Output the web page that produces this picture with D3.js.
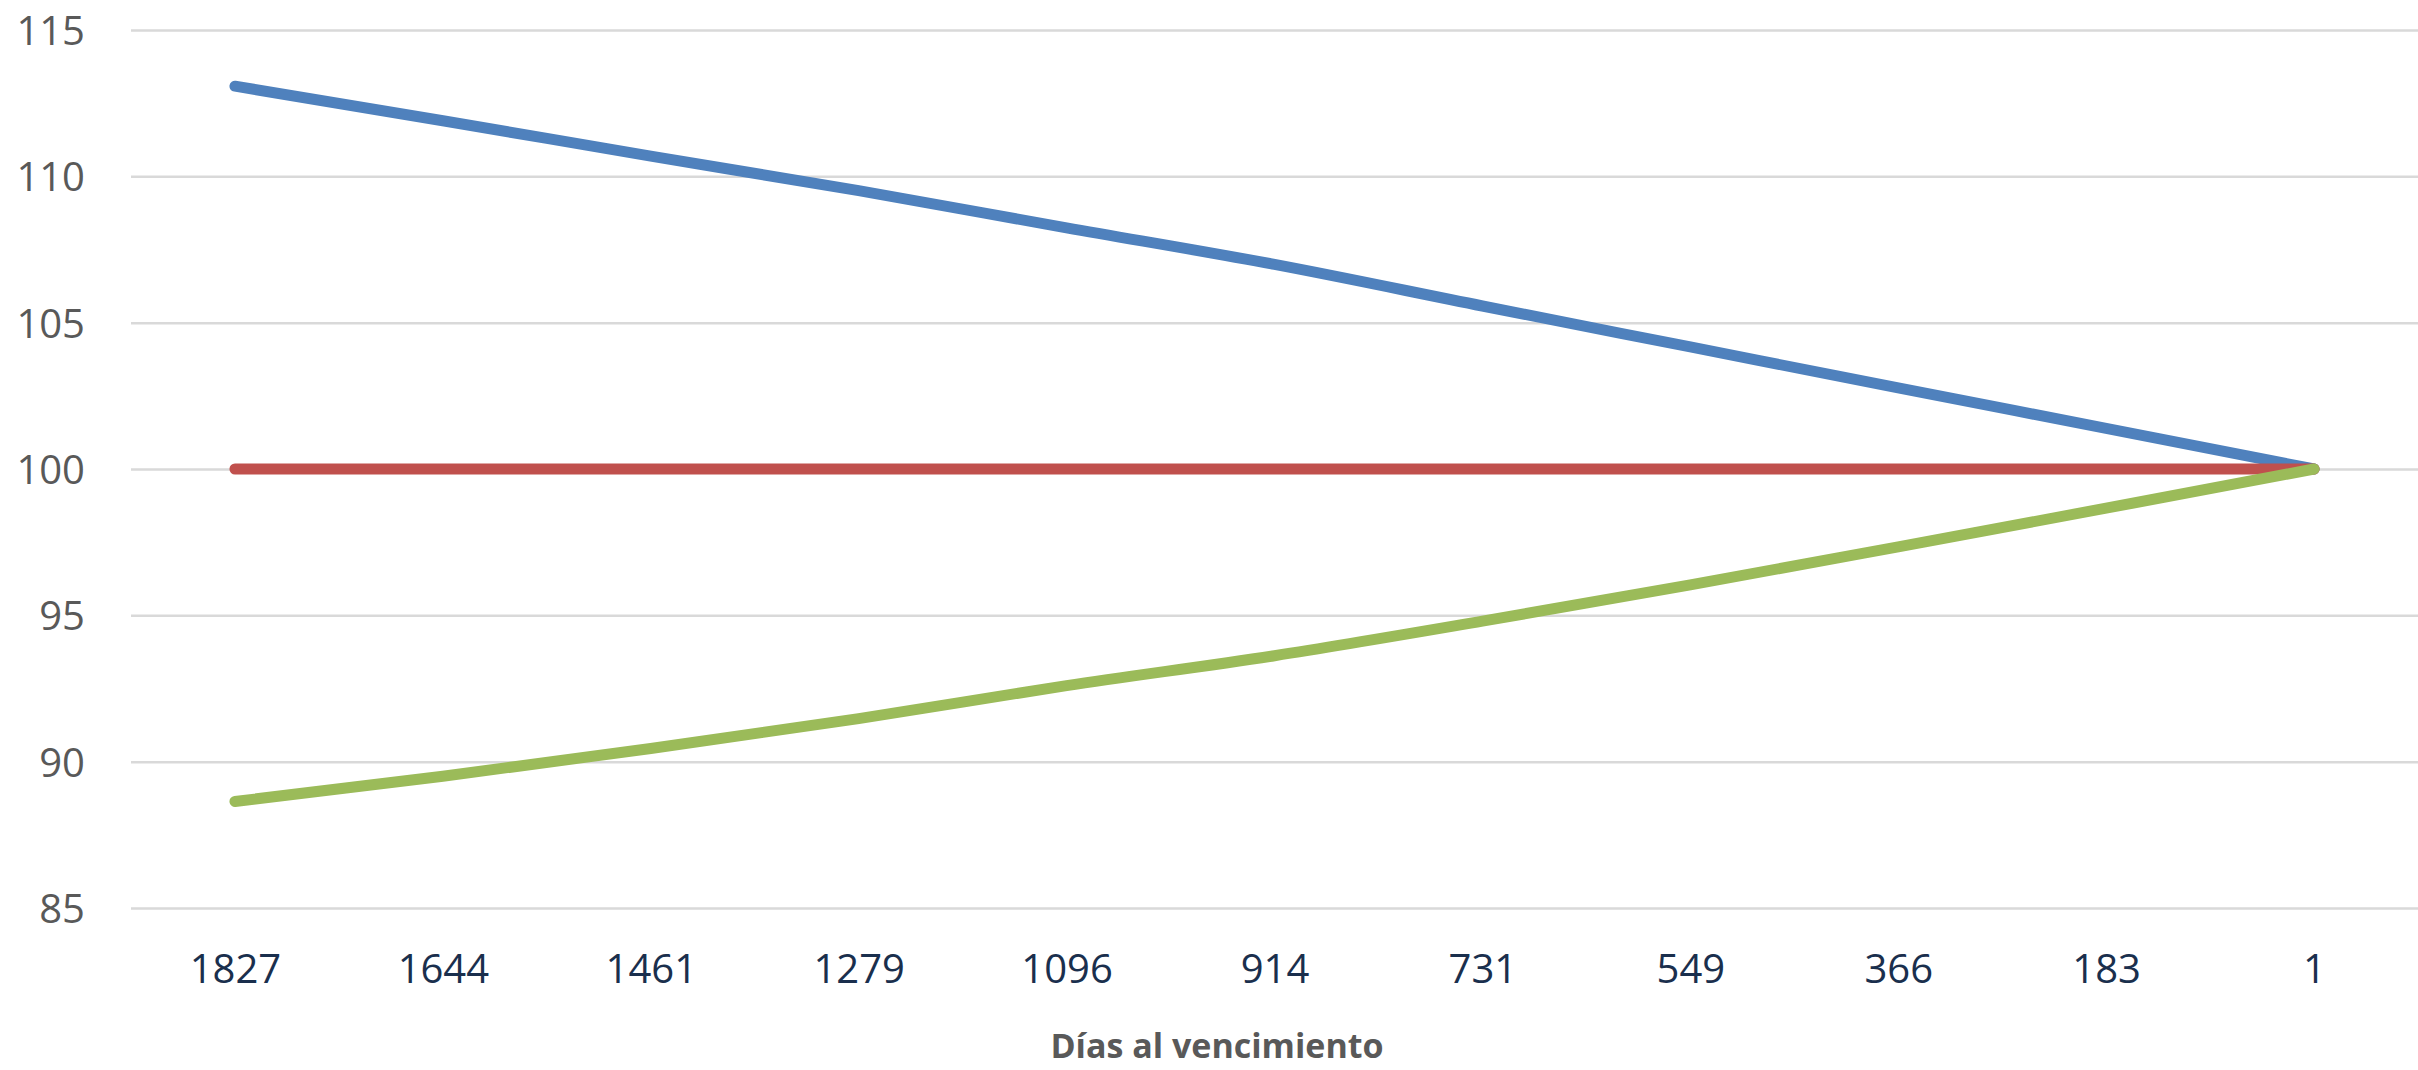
<!DOCTYPE html>
<html>
<head>
<meta charset="utf-8">
<script src="https://cdn.jsdelivr.net/npm/d3@7"></script>
<style>
  html, body { margin: 0; padding: 0; background: #ffffff; }
  svg { display: block; }
</style>
</head>
<body>
<svg id="chart" width="2418" height="1070"></svg>
<script>
// Data
const days = ["1827", "1644", "1461", "1279", "1096", "914", "731", "549", "366", "183", "1"];
const bluePrices  = [113.08, 111.90, 110.69, 109.51, 108.24, 106.99, 105.57, 104.17, 102.77, 101.39, 100.0];
const redPrices   = [100, 100, 100, 100, 100, 100, 100, 100, 100, 100, 100];
const greenPrices = [88.64, 89.50, 90.45, 91.47, 92.60, 93.62, 94.80, 96.04, 97.34, 98.66, 100.0];
const yTicks = [85, 90, 95, 100, 105, 110, 115];
const xTitle = "Días al vencimiento";

const series = [
  { name: "Prima", values: bluePrices, color: "#4f81bd" },
  { name: "Par", values: redPrices, color: "#c0504d" },
  { name: "Descuento", values: greenPrices, color: "#9bbb59" }
];

const W = 2418, H = 1070;
const plot = { left: 131, right: 2418, top: 30, bottom: 908 };

const svg = d3.select("#chart");

const x = d3.scalePoint().domain(days).range([plot.left, plot.right]).padding(0.5);
const y = d3.scaleLinear().domain([85, 115]).range([plot.bottom, plot.top]);

// Y axis with gridlines
const yAxis = svg.append("g")
  .attr("transform", `translate(${plot.left},0)`)
  .call(d3.axisLeft(y).tickValues(yTicks).tickSize(-(plot.right - plot.left)).tickPadding(46).tickFormat(d3.format("d")));
yAxis.select(".domain").remove();
yAxis.selectAll(".tick line").attr("stroke", "#d9d9d9").attr("stroke-width", 2.5);
yAxis.selectAll(".tick text")
  .attr("fill", "#595959")
  .attr("font-family", "'Open Sans', 'Noto Sans', sans-serif")
  .attr("font-size", 40)
  .attr("dy", "0.36em");

// X axis labels
const xAxis = svg.append("g")
  .attr("transform", `translate(0,${plot.bottom})`)
  .call(d3.axisBottom(x).tickSize(0).tickPadding(0));
xAxis.select(".domain").remove();
xAxis.selectAll(".tick text")
  .attr("fill", "#1a2f4d")
  .attr("font-family", "'Open Sans', 'Noto Sans', sans-serif")
  .attr("font-size", 40)
  .attr("y", 75)
  .attr("dy", 0);

// Lines
const line = d3.line()
  .x((d, i) => x(days[i]))
  .y(d => y(d))
  .curve(d3.curveMonotoneX);

svg.append("g").selectAll("path")
  .data(series)
  .join("path")
  .attr("d", d => line(d.values))
  .attr("fill", "none")
  .attr("stroke", d => d.color)
  .attr("stroke-width", 11)
  .attr("stroke-linecap", "round")
  .attr("stroke-linejoin", "round");

// Axis title
svg.append("text")
  .attr("x", 1217)
  .attr("y", 1058)
  .attr("text-anchor", "middle")
  .attr("fill", "#595959")
  .attr("font-family", "'Open Sans', 'Noto Sans', sans-serif")
  .attr("font-weight", "bold")
  .attr("font-size", 34)
  .text(xTitle);
</script>
</body>
</html>
